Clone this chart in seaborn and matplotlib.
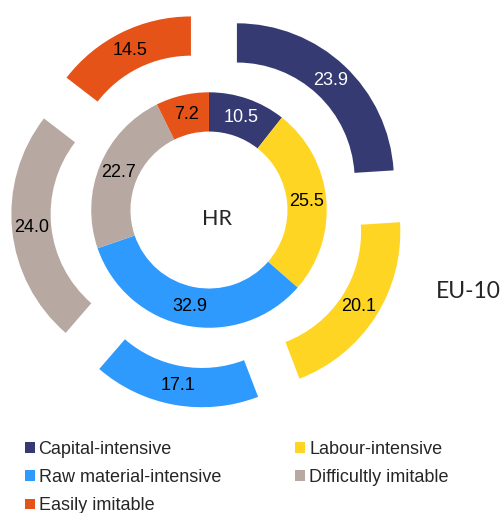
import matplotlib
matplotlib.use("Agg")
import matplotlib.pyplot as plt
import seaborn as sns
from matplotlib.patches import Patch

categories = ["Capital-intensive", "Labour-intensive", "Raw material-intensive",
              "Difficultly imitable", "Easily imitable"]
hr_values = [10.5, 25.5, 32.9, 22.7, 7.2]
eu10_values = [23.9, 20.1, 17.1, 24.0, 14.5]
colors = ["#353B72", "#FFD524", "#2F9AFD", "#B7A9A1", "#E65319"]
label_colors = ["white", "black", "black", "black", "black"]

sns.set_theme(style="white")
plt.rcParams["font.family"] = ["Liberation Sans", "DejaVu Sans"]

fig = plt.figure(figsize=(5.01, 5.13), dpi=100)
ax = fig.add_axes([0, 0, 1, 1])

# outer ring (EU-10), exploded
wedges_o, texts_o = ax.pie(
    eu10_values, radius=1.0, startangle=90, counterclock=False,
    colors=colors, explode=[0.26] * len(eu10_values),
    labels=[f"{v:.1f}" for v in eu10_values], labeldistance=0.875,
    wedgeprops=dict(width=0.25, edgecolor="none"),
    textprops=dict(fontsize=13))
# inner ring (HR)
wedges_i, texts_i = ax.pie(
    hr_values, radius=0.75, startangle=90, counterclock=False,
    colors=colors, labels=[f"{v:.1f}" for v in hr_values],
    labeldistance=0.625 / 0.75,
    wedgeprops=dict(width=0.25, edgecolor="none"),
    textprops=dict(fontsize=13))
for txts in (texts_o, texts_i):
    for t, c in zip(txts, label_colors):
        t.set_ha("center")
        t.set_va("center")
        t.set_color(c)

ax.text(0.05, -0.06, "HR", ha="center", va="center", fontsize=15.5,
        family=["Lato", "DejaVu Sans"])
ax.text(1.65, -0.52, "EU-10", ha="center", va="center", fontsize=16.5,
        family=["Lato", "DejaVu Sans"])

ax.set_xlim(-1.331, 1.860)
ax.set_ylim(-1.930, 1.338)
ax.set_aspect("auto")
ax.axis("off")

order = [0, 2, 4, 1, 3]
handles = [Patch(facecolor=colors[i], edgecolor="none") for i in order]
labels = [categories[i] for i in order]
fig.legend(handles, labels, loc="upper left", bbox_to_anchor=(25 / 501, 1 - 441 / 513),
           ncol=2, frameon=False, fontsize=13, borderpad=0, borderaxespad=0,
           handlelength=0.55, handleheight=0.55, handletextpad=0.2,
           columnspacing=4.13, labelspacing=0.62)

fig.savefig("out.png", dpi=100)
